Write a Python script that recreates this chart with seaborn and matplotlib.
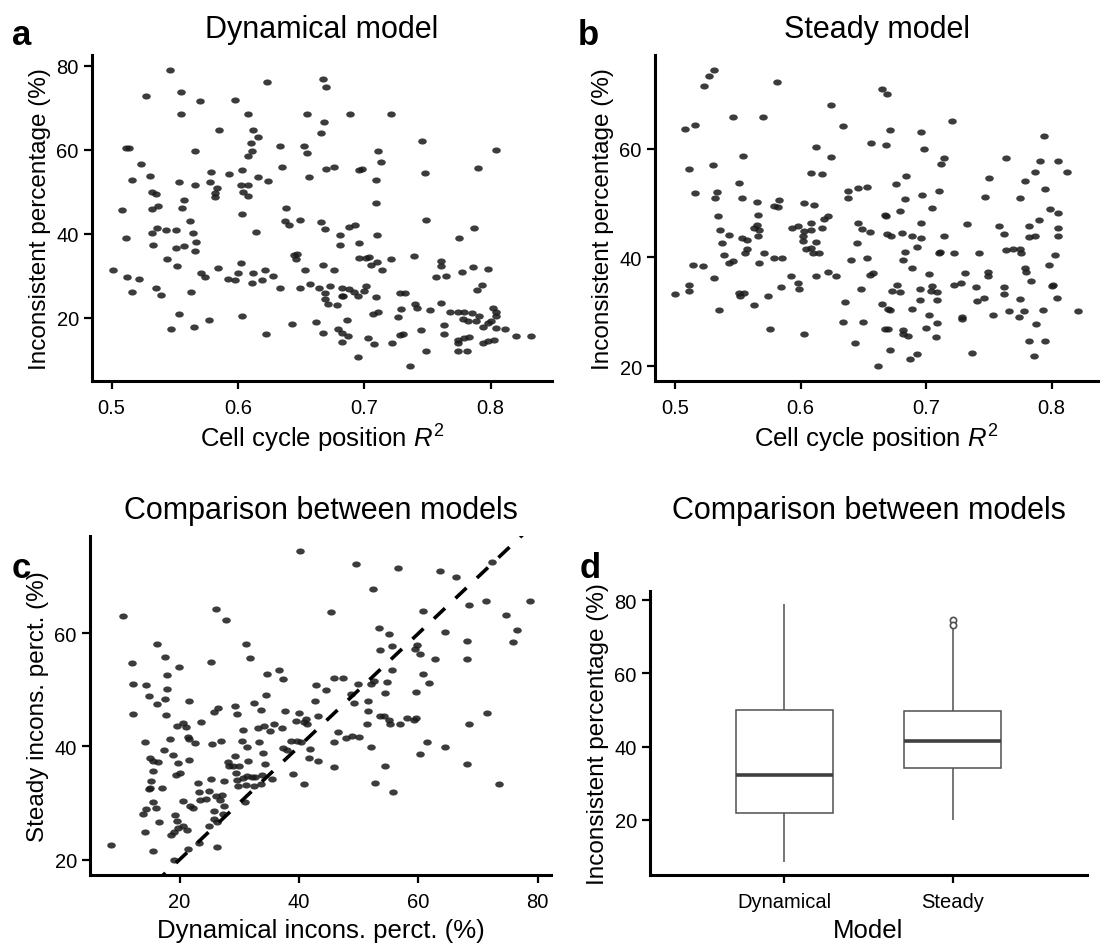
import numpy as np
import pandas as pd
import matplotlib
matplotlib.use("Agg")
import matplotlib.pyplot as plt
import seaborn as sns
from matplotlib.path import Path

# ---------------- Panel a: Dynamical model (R^2 vs inconsistent %) ----------------
a_r2 = [0.546,0.623,0.667,0.670,0.527,0.555,0.570,0.598,0.555,0.608,0.655,0.668,0.666,0.585,0.612,0.616,0.610,0.611,0.608,0.511,
        0.514,0.566,0.633,0.652,0.655,0.523,0.635,0.670,0.676,0.579,0.593,0.603,0.530,0.516,0.553,0.566,0.578,0.602,0.608,0.616,
        0.624,0.656,0.583,0.582,0.582,0.604,0.608,0.532,0.535,0.557,0.508,0.532,0.537,0.556,0.638,0.603,0.689,0.721,0.746,0.804,
        0.711,0.713,0.696,0.698,0.709,0.748,0.790,0.709,0.562,0.511,0.532,0.536,0.543,0.551,0.564,0.567,0.533,0.551,0.557,0.566,
        0.544,0.552,0.501,0.512,0.522,0.516,0.535,0.539,0.563,0.571,0.574,0.584,0.592,0.598,0.600,0.602,0.612,0.611,0.619,0.621,
        0.628,0.633,0.614,0.637,0.640,0.649,0.644,0.647,0.646,0.653,0.649,0.657,0.664,0.666,0.669,0.667,0.553,0.547,0.565,0.577,
        0.603,0.622,0.643,0.662,0.667,0.688,0.693,0.681,0.681,0.696,0.710,0.749,0.787,0.775,0.676,0.696,0.701,0.704,0.710,0.705,
        0.714,0.721,0.739,0.761,0.761,0.757,0.765,0.777,0.786,0.798,0.793,0.789,0.673,0.682,0.688,0.692,0.701,0.700,0.669,0.669,
        0.671,0.682,0.683,0.695,0.678,0.709,0.728,0.732,0.740,0.742,0.729,0.727,0.752,0.761,0.707,0.711,0.686,0.679,0.682,0.687,
        0.682,0.703,0.708,0.722,0.728,0.731,0.745,0.749,0.695,0.736,0.763,0.763,0.768,0.774,0.779,0.785,0.791,0.778,0.782,0.788,
        0.802,0.804,0.804,0.800,0.798,0.794,0.804,0.811,0.820,0.832,0.774,0.779,0.783,0.774,0.774,0.781,0.794,0.798,0.803]
a_dyn = [79.0,76.1,76.7,74.9,72.7,73.8,71.6,71.8,68.4,68.4,68.4,66.5,63.9,64.7,64.6,63.0,61.5,59.7,58.4,60.4,
         60.4,59.7,60.8,60.9,59.2,56.7,55.9,55.4,55.8,54.6,54.2,55.1,53.8,52.7,52.3,51.7,52.3,51.5,51.7,53.6,
         52.6,53.5,50.8,49.6,48.8,50.0,48.9,50.0,49.4,48.0,45.6,45.9,46.6,46.1,46.1,44.7,68.6,68.6,62.0,60.0,
         59.6,57.1,55.1,55.4,52.8,54.5,55.6,47.3,43.1,39.0,40.3,41.3,40.8,40.8,40.1,38.1,37.3,36.7,37.2,35.8,
         34.0,32.3,31.3,29.6,29.3,26.1,27.0,25.5,26.1,30.6,29.8,31.8,29.3,29.1,30.7,33.1,30.7,28.2,29.1,31.4,
         29.9,27.0,40.5,43.0,42.0,43.3,35.0,35.3,33.9,31.3,27.2,28.0,27.0,42.7,41.1,32.5,20.9,17.3,17.9,19.4,
         20.5,16.1,18.5,18.9,16.5,41.7,42.2,39.6,37.3,37.7,39.8,43.3,41.4,39.0,31.3,34.2,34.3,34.5,33.2,32.5,
         31.3,33.9,34.8,33.5,32.3,29.6,29.9,31.0,32.0,31.6,27.8,26.7,27.5,27.1,26.8,26.2,27.5,26.4,26.0,24.4,
         23.4,25.1,25.2,25.1,23.0,24.9,25.8,25.8,23.4,22.3,22.1,20.1,21.8,23.5,21.0,21.5,19.5,17.4,16.5,15.6,
         14.2,15.1,13.8,14.1,15.8,16.1,17.0,12.0,10.6,8.5,18.4,16.1,21.5,21.4,21.5,21.1,20.4,19.8,19.2,19.2,
         22.4,21.5,20.4,19.3,18.8,17.8,17.7,17.4,15.6,15.6,14.7,15.2,15.4,14.1,12.1,12.1,14.1,14.6,14.8]

# ---------------- Panel b: Steady model (R^2 vs inconsistent %) ----------------
b_r2 = [0.531,0.527,0.523,0.581,0.665,0.624,0.546,0.570,0.508,0.516,0.634,0.656,0.612,0.624,0.554,0.530,0.511,0.608,0.617,0.551,
        0.516,0.533,0.532,0.553,0.565,0.583,0.579,0.582,0.603,0.611,0.638,0.646,0.653,0.638,0.669,0.721,0.671,0.696,0.668,0.698,
        0.714,0.712,0.794,0.764,0.791,0.805,0.787,0.812,0.684,0.676,0.750,0.779,0.683,0.697,0.710,0.747,0.775,0.795,0.679,0.705,
        0.799,0.805,0.534,0.566,0.536,0.543,0.553,0.557,0.563,0.565,0.567,0.566,0.537,0.557,0.556,0.539,0.546,0.543,0.571,0.567,
        0.579,0.585,0.593,0.598,0.608,0.603,0.602,0.602,0.608,0.617,0.619,0.622,0.612,0.604,0.608,0.610,0.615,0.646,0.649,0.655,
        0.645,0.640,0.653,0.514,0.522,0.531,0.592,0.612,0.622,0.628,0.655,0.658,0.511,0.511,0.500,0.551,0.555,0.552,0.563,0.574,
        0.584,0.598,0.599,0.648,0.535,0.635,0.634,0.650,0.576,0.603,0.643,0.662,0.667,0.668,0.696,0.733,0.669,0.672,0.681,0.689,
        0.696,0.714,0.693,0.683,0.682,0.711,0.710,0.722,0.742,0.758,0.762,0.764,0.769,0.775,0.776,0.782,0.790,0.805,0.805,0.782,
        0.787,0.803,0.798,0.779,0.780,0.784,0.689,0.702,0.731,0.749,0.749,0.677,0.673,0.679,0.695,0.705,0.704,0.709,0.722,0.728,
        0.740,0.746,0.741,0.762,0.762,0.775,0.801,0.800,0.804,0.821,0.665,0.670,0.671,0.689,0.695,0.709,0.702,0.729,0.729,0.753,
        0.766,0.774,0.778,0.793,0.788,0.667,0.670,0.682,0.682,0.686,0.700,0.709,0.708,0.782,0.795,0.671,0.687,0.693,0.737,0.786]
b_steady = [74.5,73.3,71.6,72.2,71.0,68.0,65.8,65.8,63.7,64.3,64.1,61.0,60.3,58.4,58.6,57.0,56.3,55.5,55.4,53.6,
            51.8,52.0,51.0,51.0,50.2,50.6,49.5,49.2,50.0,49.6,52.2,52.8,52.9,50.9,70.0,65.0,63.4,63.0,60.6,59.9,
            58.2,57.2,62.4,58.2,57.7,57.8,55.7,55.8,55.0,53.5,54.6,54.0,50.8,51.5,52.2,51.2,51.0,52.6,48.5,49.1,
            48.9,48.1,47.7,47.8,45.0,44.1,43.5,43.2,45.4,45.9,45.1,44.0,42.6,41.5,40.8,40.4,39.3,38.9,40.9,39.0,
            39.9,39.9,45.5,45.8,46.3,44.8,43.9,43.0,45.0,45.4,47.1,47.6,42.9,41.6,41.8,40.8,40.8,46.4,45.3,44.7,
            42.6,39.5,39.9,38.6,38.4,36.2,36.6,36.5,37.3,36.6,36.8,37.2,35.0,33.9,33.2,33.4,33.4,32.9,31.3,32.9,
            34.6,35.3,34.2,34.2,30.4,31.8,28.1,28.1,26.8,26.0,24.2,20.0,47.8,47.6,46.3,46.1,44.3,43.9,44.4,43.9,
            43.5,43.9,41.9,41.0,39.6,41.0,40.8,40.8,40.8,45.7,44.3,41.4,41.6,41.6,40.9,45.7,46.8,45.5,44.0,43.7,
            43.9,40.4,38.6,38.0,37.3,35.6,38.0,36.9,37.1,37.3,36.6,34.9,33.8,33.6,34.2,34.7,33.8,33.6,35.0,35.3,
            34.6,32.6,32.0,34.5,33.2,32.3,34.9,34.7,32.6,30.1,31.5,30.6,30.4,30.5,32.1,32.1,29.4,29.1,28.6,29.4,
            30.1,29.0,30.1,30.4,27.8,26.8,26.9,26.7,26.0,25.5,27.0,28.0,25.3,24.7,24.7,22.9,21.4,22.2,22.4,21.8]

# ---------------- Panel c: comparison (dynamical vs steady) ----------------
c_dyn = [40.2,10.6,26.1,27.8,16.2,31.2,17.6,31.8,12.0,25.3,19.9,17.9,34.6,36.7,37.3,72.4,49.5,56.6,63.6,66.3,
         52.4,45.4,60.7,68.5,71.4,78.7,74.7,76.5,75.9,53.4,55.1,55.5,53.6,59.8,59.5,60.3,64.4,68.2,62.8,68.2,
         55.6,60.8,45.9,47.3,12.2,14.3,17.9,14.8,17.6,16.2,21.6,12.2,17.8,42.9,42.7,34.5,32.4,29.2,29.6,26.5,
         25.8,33.7,37.6,40.0,43.1,23.5,19.6,20.5,21.1,30.7,33.1,34.1,35.1,35.8,37.2,39.5,40.9,41.2,41.4,14.2,
         18.4,21.4,21.6,22.5,25.5,27.0,30.5,33.3,31.3,38.7,39.6,40.4,37.3,38.0,41.9,34.0,29.3,17.4,18.9,15.1,
         15.6,16.4,19.7,21.5,28.1,28.2,31.4,34.3,41.7,15.5,29.0,30.0,29.4,20.1,19.4,15.2,23.1,25.3,27.4,29.6,
         30.7,31.3,32.1,32.6,33.8,35.4,39.0,40.8,29.7,31.2,32.4,33.6,14.9,15.0,17.1,23.3,25.0,23.4,24.5,26.1,
         27.1,26.8,27.5,20.6,21.8,22.2,15.6,14.3,13.9,16.0,25.8,27.2,30.9,16.6,19.3,19.6,20.5,21.2,19.7,19.1,
         18.5,25.0,26.3,25.8,14.2,8.5,15.6,21.4,23.3,26.3,19.0,44.6,49.9,52.1,52.6,54.7,61.8,48.7,54.4,59.6,
         49.2,51.5,51.5,53.5,54.3,55.1,55.3,51.4,57.0,58.1,59.2,59.6,46.6,47.9,48.8,50.0,45.9,52.1,43.2,45.8,
         54.4,61.4,60.3,64.5,68.5,71.5,68.2,52.8,55.8,73.5]
c_steady = [74.5,63.0,64.3,62.4,58.1,58.1,55.9,55.7,54.7,55.0,54.0,52.7,52.8,53.6,52.0,72.6,72.2,71.5,71.0,70.0,
            67.9,63.7,64.0,65.0,65.8,65.8,63.3,60.6,58.4,61.0,59.9,57.7,57.0,57.9,57.2,56.3,60.3,58.6,55.4,55.5,
            53.5,52.9,52.2,52.2,51.0,50.8,50.2,48.9,48.4,47.6,48.1,45.7,45.5,50.9,48.0,49.1,47.7,47.2,45.7,46.8,
            46.1,46.4,46.3,46.0,45.4,44.4,43.7,44.1,43.5,43.0,43.2,43.6,42.7,44.0,43.2,44.5,44.4,44.8,44.0,40.8,
            41.4,41.6,41.3,40.7,40.4,41.0,41.0,40.8,39.9,40.9,40.9,40.8,39.7,39.3,39.6,38.9,38.4,39.3,38.5,38.0,
            37.4,37.2,37.1,37.7,37.2,36.5,37.4,36.9,38.0,35.7,36.6,36.5,35.4,35.3,35.0,33.9,33.6,34.3,33.9,34.0,
            34.4,34.8,34.6,34.6,35.0,34.3,35.1,33.4,33.0,33.2,33.0,33.3,32.5,32.7,32.6,32.0,32.1,30.5,30.7,31.3,
            31.4,30.6,29.4,30.4,29.5,29.1,30.1,29.0,28.1,29.1,28.6,28.1,30.1,26.7,27.8,26.8,26.0,25.3,25.6,24.9,
            24.4,26.0,26.7,27.1,24.8,22.5,21.5,21.8,23.0,22.3,20.0,50.0,51.1,51.0,51.6,51.4,51.3,49.3,49.5,49.6,
            47.7,48.0,46.3,45.4,45.4,44.7,44.0,44.0,44.0,45.0,44.7,45.0,42.6,41.5,41.9,41.6,40.8,39.9,37.4,36.3,
            36.6,40.8,38.7,39.9,44.0,45.9,36.9,33.5,31.9,33.4]

# ---------------- Panel d: box plot categories ----------------
d_models = ["Dynamical", "Steady"]
d_values = [a_dyn, b_steady]

titles = ["Dynamical model", "Steady model", "Comparison between models", "Comparison between models"]
letters = ["a", "b", "c", "d"]

sns.set_theme(style="ticks")
plt.rcParams["font.family"] = ["Liberation Sans", "DejaVu Sans"]
plt.rcParams["mathtext.fontset"] = "custom"
plt.rcParams["mathtext.rm"] = "Liberation Sans"
plt.rcParams["mathtext.it"] = "Liberation Sans:italic"
for k in ["text.color", "axes.labelcolor", "xtick.color", "ytick.color", "axes.edgecolor"]:
    plt.rcParams[k] = "black"

W, H = 1109, 945
fig = plt.figure(figsize=(W / 100, H / 100), dpi=100)

def rect(l, t, r, b):
    return [l / W, 1 - b / H, (r - l) / W, (b - t) / H]

ax_a = fig.add_axes(rect(92, 56, 552, 382))
ax_b = fig.add_axes(rect(655, 56, 1098, 382))
ax_c = fig.add_axes(rect(90, 537, 551, 876))
ax_d = fig.add_axes(rect(650, 592, 1087, 876))

circ = Path.unit_circle()
ell = Path(circ.vertices * np.array([1.4, 1.0]), circ.codes)
sc_kw = dict(marker=ell, s=38, color="#1a1a1a", alpha=0.85, linewidth=0)

sns.scatterplot(x=a_r2, y=a_dyn, ax=ax_a, **sc_kw)
sns.scatterplot(x=b_r2, y=b_steady, ax=ax_b, **sc_kw)
sns.scatterplot(x=c_dyn, y=c_steady, ax=ax_c, **sc_kw)

# identity line in panel c
xl, yl = ax_c.get_xlim(), ax_c.get_ylim()
lo, hi = min(xl[0], yl[0]), max(xl[1], yl[1])
ax_c.plot([lo, hi], [lo, hi], color="black", lw=2.6, dashes=(4.2, 4.0), zorder=3)
ax_c.set_xlim(xl)
ax_c.set_ylim(yl)

df = pd.DataFrame({
    "Model": np.repeat(d_models, [len(v) for v in d_values]),
    "value": np.concatenate([np.asarray(v, float) for v in d_values]),
})
sns.boxplot(data=df, x="Model", y="value", ax=ax_d, color="white", linecolor="#505050",
            linewidth=1.1, width=0.58, fliersize=4.5, showcaps=False,
            medianprops=dict(color="#404040", linewidth=2.6),
            flierprops=dict(marker="o", markerfacecolor="white", markeredgecolor="#505050", markeredgewidth=1.2))
ax_d.set_xlim(-0.8, 1.8)

ax_a.set_xticks([0.5, 0.6, 0.7, 0.8])
ax_b.set_xticks([0.5, 0.6, 0.7, 0.8])
ax_a.set_yticks([20, 40, 60, 80])
ax_b.set_yticks([20, 40, 60])
ax_c.set_xticks([20, 40, 60, 80])
ax_c.set_yticks([20, 40, 60])
ax_d.set_yticks([20, 40, 60, 80])

XL, YL = 18.5, 17.5
ax_a.set_xlabel("Cell cycle position $R^2$", fontsize=XL, labelpad=3)
ax_b.set_xlabel("Cell cycle position $R^2$", fontsize=XL, labelpad=3)
ax_a.set_ylabel("Inconsistent percentage (%)", fontsize=YL)
ax_b.set_ylabel("Inconsistent percentage (%)", fontsize=YL)
ax_c.set_xlabel("Dynamical incons. perct. (%)", fontsize=XL, labelpad=5)
ax_c.set_ylabel("Steady incons. perct. (%)", fontsize=YL)
ax_d.set_xlabel("Model", fontsize=XL, labelpad=5)
ax_d.set_ylabel("Inconsistent percentage (%)", fontsize=YL)

for ax, t in zip([ax_a, ax_b, ax_c], titles[:3]):
    ax.set_title(t, fontsize=22, pad=13)
ax_d.set_title(titles[3], fontsize=22, pad=13 + (592 - 537) * 0.72)

for ax in [ax_a, ax_b, ax_c, ax_d]:
    sns.despine(ax=ax)
    for s in ["left", "bottom"]:
        ax.spines[s].set_linewidth(2.2)
        ax.spines[s].set_color("black")
    ax.tick_params(axis="both", labelsize=14.5, width=1.6, length=5.5, color="black")
    ax.tick_params(axis="x", pad=7)
    ax.tick_params(axis="y", pad=4)

for (x, y), L in zip([(12, 45), (578, 45), (12, 578), (580, 578)], letters):
    fig.text(x / W, 1 - y / H, L, fontsize=25, fontweight="bold", va="baseline", ha="left")

fig.savefig("out.png", dpi=100)
